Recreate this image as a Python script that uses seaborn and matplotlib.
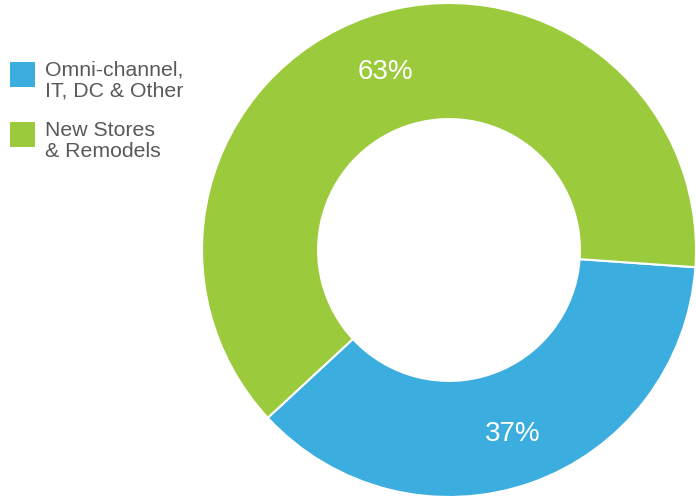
import matplotlib
matplotlib.use("Agg")
import matplotlib.pyplot as plt
import seaborn as sns
from matplotlib.patches import Rectangle

categories = ["Omni-channel,\nIT, DC & Other", "New Stores\n& Remodels"]
values = [37, 63]
colors = ["#3BAEDF", "#9BCB3C"]

sns.set_style("white")
plt.rcParams['font.family'] = ['Liberation Sans', 'DejaVu Sans']

W, H = 696, 499
fig = plt.figure(figsize=(W/100, H/100), dpi=100)
ax = fig.add_axes([202/W, 2/H, 494/W, 494/H])

wedges, texts, autotexts = ax.pie(
    values, colors=colors, startangle=-4, counterclock=False,
    radius=1, autopct=lambda p: f"{p:.0f}%", pctdistance=0.775,
    wedgeprops=dict(width=0.47, edgecolor="white", linewidth=1.5),
    textprops=dict(color="white", fontsize=20))
for t in autotexts:
    t.set_va("center_baseline")
    t.set_ha("center")
ax.set_xlim(-1, 1)
ax.set_ylim(-1, 1)
ax.set_aspect("equal")
ax.axis("off")

# legend drawn manually in figure pixel coordinates
sq_tops = [62, 122]
for cat, col, top in zip(categories, colors, sq_tops):
    fig.patches.append(Rectangle((10/W, 1 - (top + 25)/H), 25/W, 25/H,
                                 transform=fig.transFigure, facecolor=col,
                                 edgecolor="none"))
    fig.text(45/W, 1 - (top - 1)/H, cat, ha="left", va="top",
             fontsize=15.3, color="#595959", linespacing=1.12)

fig.savefig("out.png", dpi=100)
